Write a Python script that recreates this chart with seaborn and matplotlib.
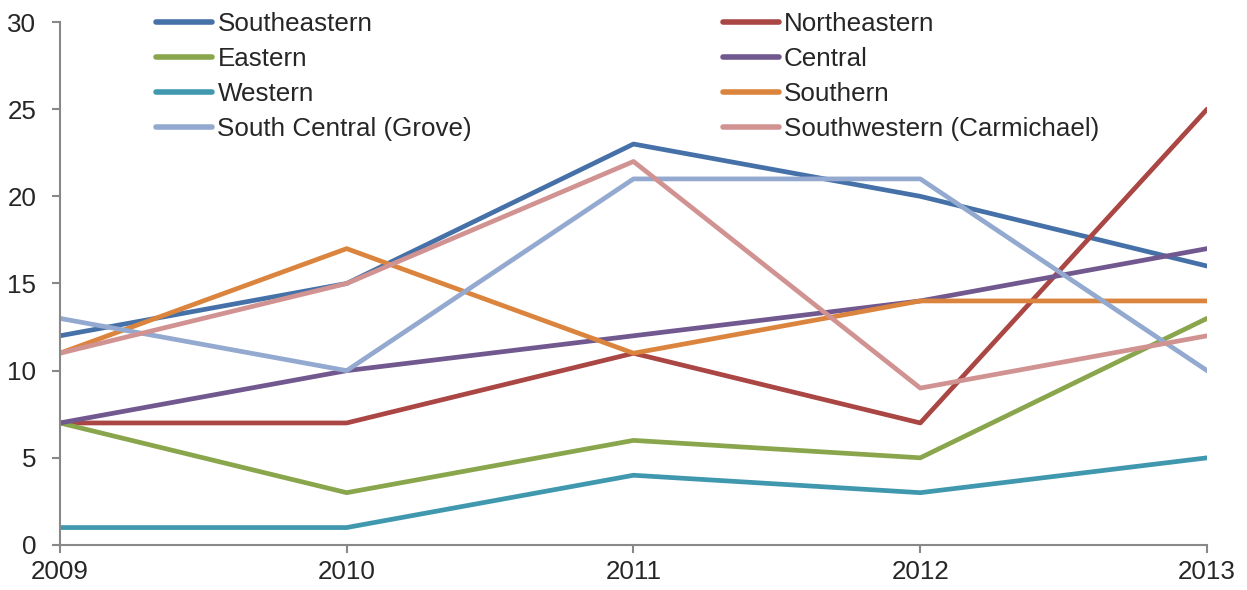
import matplotlib
matplotlib.use("Agg")
import matplotlib.pyplot as plt
import seaborn as sns
import pandas as pd
from matplotlib.lines import Line2D

years = [2009, 2010, 2011, 2012, 2013]
southeastern = [12, 15, 23, 20, 16]
northeastern = [7, 7, 11, 7, 25]
eastern = [7, 3, 6, 5, 13]
central = [7, 10, 12, 14, 17]
western = [1, 1, 4, 3, 5]
southern = [11, 17, 11, 14, 14]
south_central = [13, 10, 21, 21, 10]
southwestern = [11, 15, 22, 9, 12]

series = {
    "Southeastern": southeastern,
    "Northeastern": northeastern,
    "Eastern": eastern,
    "Central": central,
    "Western": western,
    "Southern": southern,
    "South Central (Grove)": south_central,
    "Southwestern (Carmichael)": southwestern,
}
colors = {
    "Southeastern": "#4571A8",
    "Northeastern": "#AA4643",
    "Eastern": "#8AA64C",
    "Central": "#71588F",
    "Western": "#4098AF",
    "Southern": "#DB843D",
    "South Central (Grove)": "#93A9CF",
    "Southwestern (Carmichael)": "#D19392",
}

rows = []
for name, vals in series.items():
    for y, v in zip(years, vals):
        rows.append({"Year": y, "Value": v, "Region": name})
df = pd.DataFrame(rows)

sns.set_style("white")
plt.rcParams['font.family'] = ['Liberation Sans', 'DejaVu Sans']

FS = 18.7
fig = plt.figure(figsize=(12.47, 5.90), dpi=100)
ax = fig.add_axes([0.048, 0.0763, 0.920, 0.8864])
sns.lineplot(data=df, x="Year", y="Value", hue="Region", palette=colors,
             hue_order=list(series.keys()), linewidth=3.4, ax=ax, legend=False)

ax.set_xlim(2009, 2013)
ax.set_ylim(0, 30)
ax.set_xticks(years)
ax.set_xticklabels([str(y) for y in years])
ax.set_yticks(range(0, 31, 5))
ax.set_xlabel("")
ax.set_ylabel("")
for s in ["top", "right"]:
    ax.spines[s].set_visible(False)
for s in ["left", "bottom"]:
    ax.spines[s].set_color("#888888")
    ax.spines[s].set_linewidth(1.5)
ax.tick_params(axis="both", which="major", length=6, width=1.5, color="#888888",
               labelsize=FS, direction="out", left=True, bottom=True)
ax.tick_params(axis="x", pad=5)
ax.tick_params(axis="y", pad=11)
for lbl in ax.get_xticklabels():
    lbl.set_clip_on(False)

order = ["Southeastern", "Eastern", "Western", "South Central (Grove)",
         "Northeastern", "Central", "Southern", "Southwestern (Carmichael)"]
handles = [Line2D([0], [0], color=colors[n], lw=4, solid_capstyle="round") for n in order]
fig.legend(handles, order, ncol=2, loc="upper left", bbox_to_anchor=(0.1067, 1.0186),
           frameon=False, fontsize=FS, handlelength=2.15, handletextpad=0.2,
           columnspacing=9.65, labelspacing=0.42)

fig.savefig("out.png", dpi=100)
